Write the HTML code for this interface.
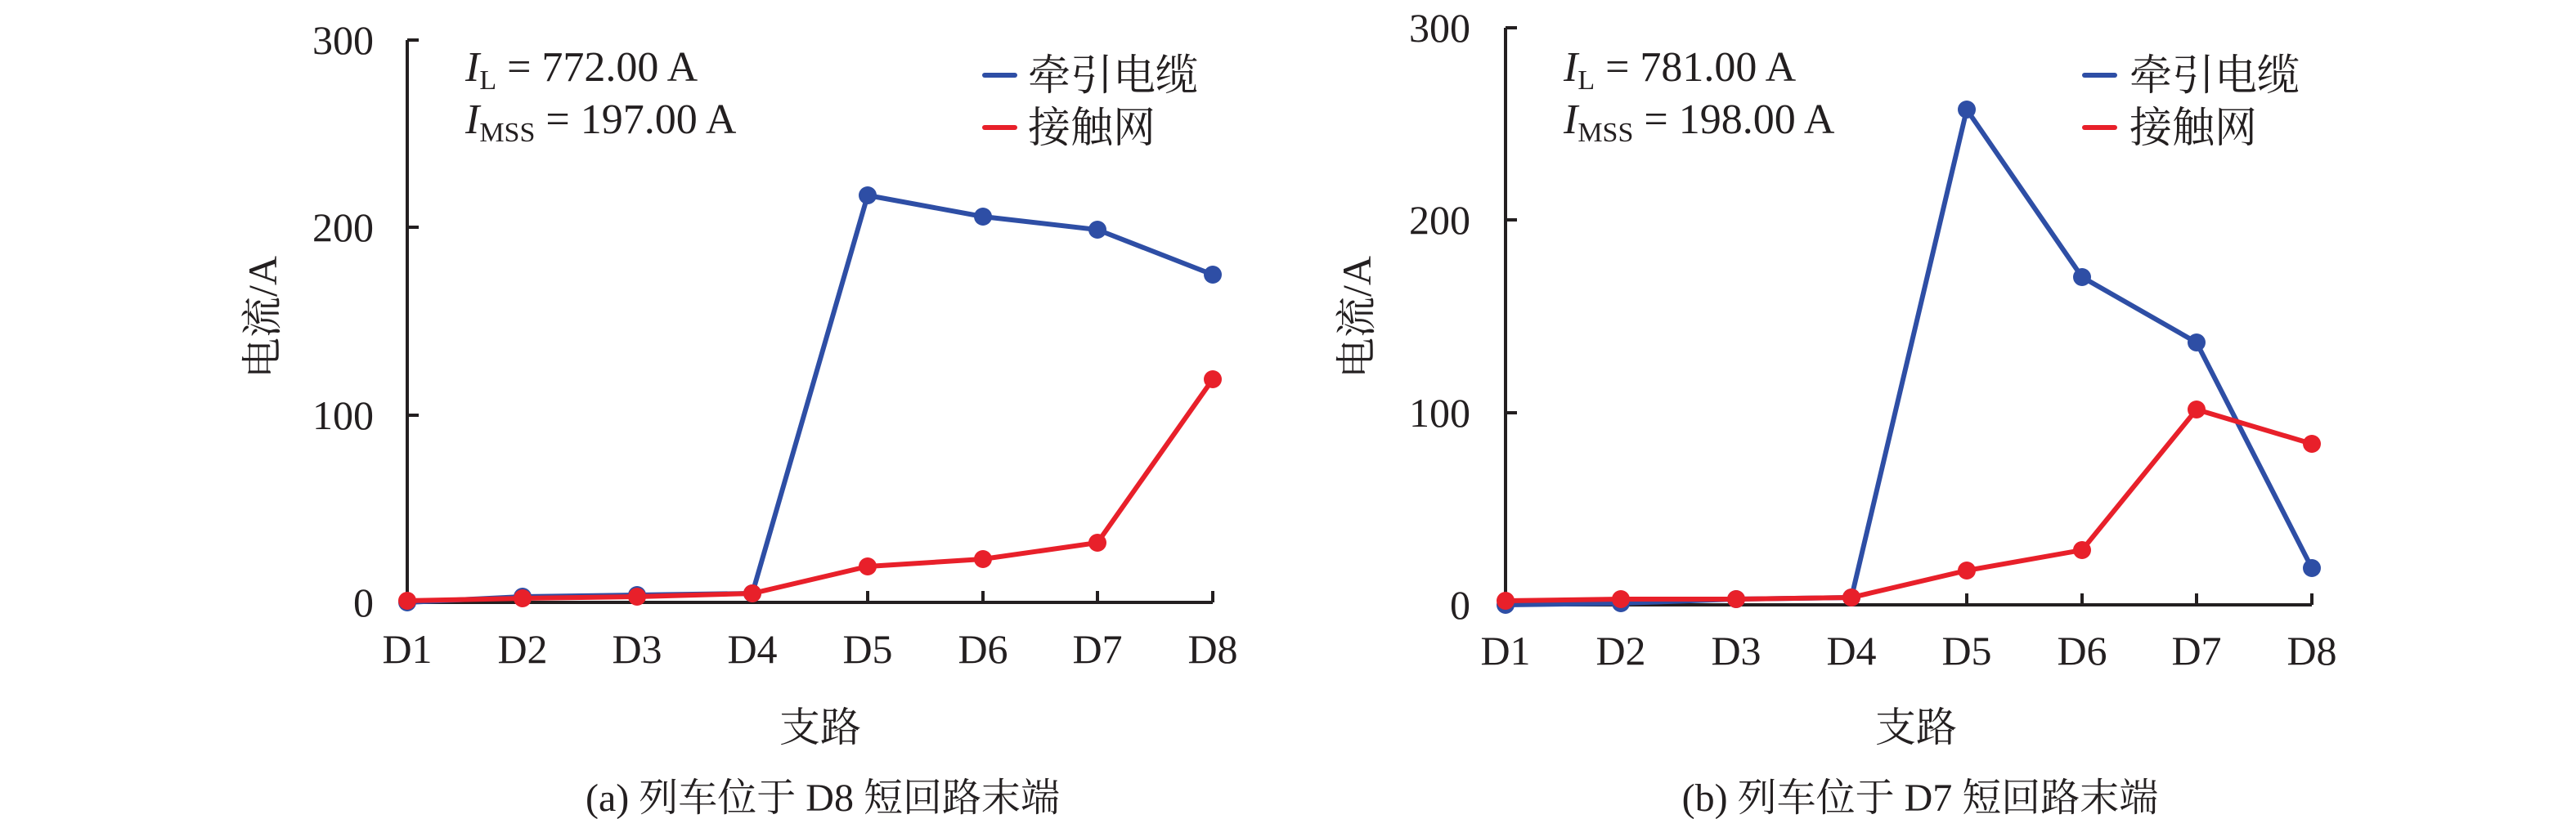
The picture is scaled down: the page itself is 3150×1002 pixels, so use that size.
<!DOCTYPE html>
<html><head><meta charset="utf-8"><style>
html,body{margin:0;padding:0;background:#fff;}
svg{display:block;}
svg text{font-family:"Liberation Serif","Times New Roman","Noto Serif CJK SC",serif;fill:#231f20;}
</style></head><body>
<svg width="3150" height="1002" viewBox="0 0 3150 1002" xmlns="http://www.w3.org/2000/svg" font-family="'Liberation Serif', 'Noto Serif CJK SC', serif">
<!-- Chart A -->
<g stroke="#231f20" stroke-width="4" fill="none">
<polyline points="498,49 498,737 1483,737"/>
<line x1="498" y1="49" x2="512" y2="49"/><line x1="498" y1="278" x2="512" y2="278"/><line x1="498" y1="508" x2="512" y2="508"/>
<line x1="639" y1="737" x2="639" y2="723"/><line x1="779" y1="737" x2="779" y2="723"/><line x1="920" y1="737" x2="920" y2="723"/><line x1="1061" y1="737" x2="1061" y2="723"/><line x1="1202" y1="737" x2="1202" y2="723"/><line x1="1342" y1="737" x2="1342" y2="723"/><line x1="1483" y1="737" x2="1483" y2="723"/>
</g>
<g font-size="50" text-anchor="end">
<text x="457" y="66">300</text><text x="457" y="295">200</text><text x="457" y="525">100</text><text x="457" y="754">0</text>
</g>
<g font-size="50" text-anchor="middle">
<text x="498" y="811">D1</text><text x="639" y="811">D2</text><text x="779" y="811">D3</text><text x="920" y="811">D4</text><text x="1061" y="811">D5</text><text x="1202" y="811">D6</text><text x="1342" y="811">D7</text><text x="1483" y="811">D8</text>
<text x="1003" y="907" font-size="50">支路</text>
<text x="1006" y="992" font-size="48">(a) 列车位于 D8 短回路末端</text>
</g>
<text transform="translate(338,388) rotate(-90)" font-size="50" text-anchor="middle">电流/A</text>
<text x="569" y="99" font-size="52"><tspan font-style="italic">I</tspan><tspan font-size="34" dy="10">L</tspan><tspan dy="-10"> = 772.00 A</tspan></text>
<text x="569" y="163" font-size="52"><tspan font-style="italic">I</tspan><tspan font-size="34" dy="10">MSS</tspan><tspan dy="-10"> = 197.00 A</tspan></text>
<line x1="1204" y1="92" x2="1241" y2="92" stroke="#2e4ea5" stroke-width="6" stroke-linecap="round"/>
<line x1="1204" y1="156" x2="1241" y2="156" stroke="#e8202a" stroke-width="6" stroke-linecap="round"/>
<text x="1257" y="110" font-size="52">牵引电缆</text>
<text x="1257" y="174" font-size="52">接触网</text>
<g fill="#2e4ea5"><polyline fill="none" stroke="#2e4ea5" stroke-width="6" points="498,737 639,730 779,728 920,726 1061,239 1202,265 1342,281 1483,336"/>
<circle cx="498" cy="737" r="11"/><circle cx="639" cy="730" r="11"/><circle cx="779" cy="728" r="11"/><circle cx="920" cy="726" r="11"/><circle cx="1061" cy="239" r="11"/><circle cx="1202" cy="265" r="11"/><circle cx="1342" cy="281" r="11"/><circle cx="1483" cy="336" r="11"/></g>
<g fill="#e8202a"><polyline fill="none" stroke="#e8202a" stroke-width="6" points="498,735 639,732 779,730 920,726 1061,693 1202,684 1342,664 1483,464"/>
<circle cx="498" cy="735" r="11"/><circle cx="639" cy="732" r="11"/><circle cx="779" cy="730" r="11"/><circle cx="920" cy="726" r="11"/><circle cx="1061" cy="693" r="11"/><circle cx="1202" cy="684" r="11"/><circle cx="1342" cy="664" r="11"/><circle cx="1483" cy="464" r="11"/></g>

<!-- Chart B -->
<g stroke="#231f20" stroke-width="4" fill="none">
<polyline points="1841,34 1841,740 2827,740"/>
<line x1="1841" y1="34" x2="1855" y2="34"/><line x1="1841" y1="269" x2="1855" y2="269"/><line x1="1841" y1="505" x2="1855" y2="505"/>
<line x1="1982" y1="740" x2="1982" y2="726"/><line x1="2123" y1="740" x2="2123" y2="726"/><line x1="2264" y1="740" x2="2264" y2="726"/><line x1="2405" y1="740" x2="2405" y2="726"/><line x1="2546" y1="740" x2="2546" y2="726"/><line x1="2686" y1="740" x2="2686" y2="726"/><line x1="2827" y1="740" x2="2827" y2="726"/>
</g>
<g font-size="50" text-anchor="end">
<text x="1798" y="51">300</text><text x="1798" y="286">200</text><text x="1798" y="522">100</text><text x="1798" y="757">0</text>
</g>
<g font-size="50" text-anchor="middle">
<text x="1841" y="813">D1</text><text x="1982" y="813">D2</text><text x="2123" y="813">D3</text><text x="2264" y="813">D4</text><text x="2405" y="813">D5</text><text x="2546" y="813">D6</text><text x="2686" y="813">D7</text><text x="2827" y="813">D8</text>
<text x="2343" y="907" font-size="50">支路</text>
<text x="2348" y="992" font-size="48">(b) 列车位于 D7 短回路末端</text>
</g>
<text transform="translate(1676,388) rotate(-90)" font-size="50" text-anchor="middle">电流/A</text>
<text x="1912" y="99" font-size="52"><tspan font-style="italic">I</tspan><tspan font-size="34" dy="10">L</tspan><tspan dy="-10"> = 781.00 A</tspan></text>
<text x="1912" y="163" font-size="52"><tspan font-style="italic">I</tspan><tspan font-size="34" dy="10">MSS</tspan><tspan dy="-10"> = 198.00 A</tspan></text>
<line x1="2549" y1="92" x2="2586" y2="92" stroke="#2e4ea5" stroke-width="6" stroke-linecap="round"/>
<line x1="2549" y1="156" x2="2586" y2="156" stroke="#e8202a" stroke-width="6" stroke-linecap="round"/>
<text x="2604" y="110" font-size="52">牵引电缆</text>
<text x="2604" y="174" font-size="52">接触网</text>
<g fill="#2e4ea5"><polyline fill="none" stroke="#2e4ea5" stroke-width="6" points="1841,740 1982,738 2123,733 2264,731 2405,134 2546,339 2686,419 2827,695"/>
<circle cx="1841" cy="740" r="11"/><circle cx="1982" cy="738" r="11"/><circle cx="2123" cy="733" r="11"/><circle cx="2264" cy="731" r="11"/><circle cx="2405" cy="134" r="11"/><circle cx="2546" cy="339" r="11"/><circle cx="2686" cy="419" r="11"/><circle cx="2827" cy="695" r="11"/></g>
<g fill="#e8202a"><polyline fill="none" stroke="#e8202a" stroke-width="6" points="1841,735 1982,733 2123,733 2264,731 2405,698 2546,673 2686,501 2827,543"/>
<circle cx="1841" cy="735" r="11"/><circle cx="1982" cy="733" r="11"/><circle cx="2123" cy="733" r="11"/><circle cx="2264" cy="731" r="11"/><circle cx="2405" cy="698" r="11"/><circle cx="2546" cy="673" r="11"/><circle cx="2686" cy="501" r="11"/><circle cx="2827" cy="543" r="11"/></g>
</svg>
</body></html>
